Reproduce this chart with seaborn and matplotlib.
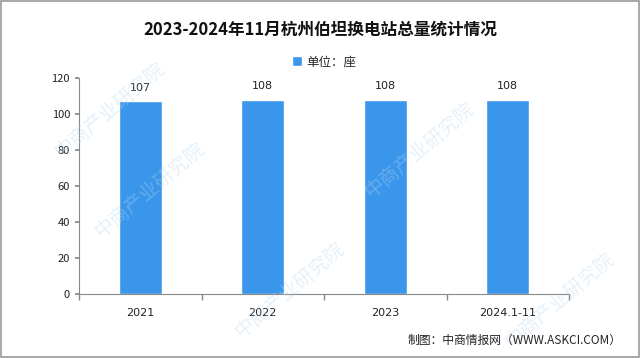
import matplotlib
matplotlib.use("Agg")
import matplotlib.pyplot as plt
import seaborn as sns
import pandas as pd
from matplotlib.patches import Rectangle

categories = ["2021", "2022", "2023", "2024.1-11"]
values = [107, 108, 108, 108]
yticks = [0, 20, 40, 60, 80, 100, 120]
title = "2023-2024年11月杭州伯坦换电站总量统计情况"
legend_label = "单位：座"
footer = "制图：中商情报网（WWW.ASKCI.COM）"

sns.set_theme(style="white")
plt.rcParams['font.family'] = ['Noto Sans CJK SC', 'DejaVu Sans']

df = pd.DataFrame({"cat": categories, "val": values})
color = "#3a96ea"

fig = plt.figure(figsize=(6.4, 3.58), dpi=100)

# watermarks (faint, behind everything)
wm = "中商产业研究院"
for (x, y) in [(150, 190), (420, 150), (290, 290), (560, 300), (110, 110)]:
    fig.text(x/640, 1 - y/358, wm, ha="center", va="center", fontsize=14, rotation=40,
             color="#b5d6f2", alpha=0.35, zorder=0)

ax = fig.add_axes([79/640, 1-294/358, (569-79)/640, (294-78)/358])
ax.patch.set_alpha(0)
sns.barplot(data=df, x="cat", y="val", color=color, width=0.35, ax=ax,
            saturation=1, label=legend_label)

for i, v in enumerate(values):
    ax.annotate(str(v), (i, v), xytext=(0, 6), textcoords="offset points",
                ha="center", va="bottom", fontsize=8, color="#222222",
                family=["DejaVu Sans"])

ax.set_ylim(0, 120)
ax.set_yticks(yticks)
ax.set_xlim(-0.5, len(categories) - 0.5)
ax.set_xlabel("")
ax.set_ylabel("")
for s in ["top", "right"]:
    ax.spines[s].set_visible(False)
for s in ["left", "bottom"]:
    ax.spines[s].set_color("#888888")
    ax.spines[s].set_linewidth(0.8)
ax.tick_params(axis="y", labelsize=8, colors="#222222", length=3, color="#888888", left=True)
ax.set_xticks(range(len(categories)))
ax.set_xticklabels(categories, fontsize=8, color="#222222", family=["DejaVu Sans"])
ax.tick_params(axis="x", length=0, pad=10)
ax.set_xticks([i - 0.5 for i in range(len(categories) + 1)], minor=True)
ax.tick_params(axis="x", which="minor", length=4, color="#888888", bottom=True, direction="out")

leg = ax.legend(loc="center", bbox_to_anchor=(0.5, 1 + 16/216), frameon=False,
                fontsize=9, handlelength=0.8, handleheight=0.8, handletextpad=0.3)

fig.text(0.5, 1 - 30/358, title, ha="center", va="center", fontsize=12, fontweight="bold", color="#111111")
fig.text(622/640, 1 - 340/358, footer, ha="right", va="center", fontsize=8.5, color="#222222")

fig.add_artist(Rectangle((0.002, 0.003), 0.996, 0.994, transform=fig.transFigure,
                         fill=False, edgecolor="#999999", linewidth=1.2))

fig.savefig("out.png", dpi=100)
